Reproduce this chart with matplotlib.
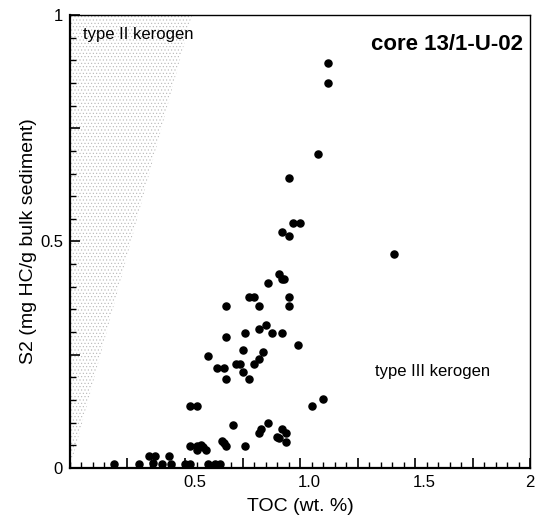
import numpy as np
import matplotlib.pyplot as plt
import matplotlib.transforms as mtransforms
from matplotlib.patches import Polygon
from matplotlib.ticker import MultipleLocator

plt.rcParams['font.family'] = ['Liberation Sans', 'DejaVu Sans']
plt.rcParams['hatch.linewidth'] = 0.4

# Rock-Eval results, core 13/1-U-02
toc = [1.12, 1.12, 1.08, 0.95, 0.97, 1.00, 0.92, 0.95, 1.41,
       0.91, 0.92, 0.93, 0.86, 0.78, 0.80, 0.95, 0.68, 0.82, 0.95,
       0.85, 0.82, 0.76, 0.88, 0.92, 0.68, 0.99, 0.75, 0.84, 0.60, 0.82,
       0.64, 0.67, 0.72, 0.74, 0.80, 0.68, 0.75, 0.78,
       0.52, 0.55, 1.05, 1.10,
       0.71, 0.86, 0.83, 0.82, 0.92, 0.94, 0.90, 0.91, 0.94,
       0.66, 0.67, 0.68, 0.76,
       0.52, 0.55, 0.57, 0.55, 0.59, 0.58,
       0.345, 0.37, 0.43,
       0.19, 0.30, 0.36, 0.40, 0.44, 0.50, 0.52, 0.60, 0.63, 0.65]
s2 = [0.893, 0.851, 0.693, 0.641, 0.540, 0.540, 0.522, 0.512, 0.472,
      0.428, 0.418, 0.418, 0.409, 0.377, 0.377, 0.377, 0.358, 0.358, 0.358,
      0.316, 0.307, 0.298, 0.298, 0.298, 0.289, 0.271, 0.261, 0.257, 0.248, 0.240,
      0.220, 0.220, 0.230, 0.230, 0.230, 0.196, 0.211, 0.196,
      0.137, 0.137, 0.137, 0.152,
      0.095, 0.100, 0.085, 0.078, 0.086, 0.077, 0.068, 0.066, 0.058,
      0.060, 0.055, 0.049, 0.049,
      0.049, 0.049, 0.051, 0.040, 0.040, 0.046,
      0.027, 0.027, 0.026,
      0.009, 0.009, 0.010, 0.009, 0.009, 0.009, 0.009, 0.009, 0.009, 0.009]

# type II kerogen field
field_x = [0, 0, 0.53]
field_y = [0, 1, 1]

fig = plt.figure(figsize=(5.35, 5.23), dpi=100)
ax = fig.add_axes([0.1308, 0.1052, 0.86, 0.8661])

ax.add_patch(Polygon(list(zip(field_x, field_y)), closed=True,
                     facecolor='none', edgecolor='#b5b5b5',
                     hatch='.....', linewidth=0, zorder=0))

ax.scatter(toc, s2, s=26, color='black', zorder=3, clip_on=False)

ax.set_xlim(0, 2)
ax.set_ylim(0, 1)

ax.set_xticks([0.25, 0.5, 0.75, 1.0, 1.25, 1.5, 1.75, 2.0])
ax.set_xticklabels(['', '0.5', '', '1.0', '', '1.5', '', '2'])
ax.xaxis.set_minor_locator(MultipleLocator(0.05))
ax.set_yticks([0, 0.25, 0.5, 0.75, 1.0])
ax.set_yticklabels(['0', '', '0.5', '', '1'])
ax.yaxis.set_minor_locator(MultipleLocator(0.05))

ax.tick_params(which='major', direction='in', length=7, width=1.2,
               labelsize=12, pad=5)
ax.tick_params(which='minor', direction='in', length=4.5, width=1.0)

# x labels start at their tick, the last one stays inside the figure
shift = mtransforms.ScaledTranslation(-2 / 100, 0, fig.dpi_scale_trans)
for lab in ax.get_xticklabels()[:-1]:
    lab.set_horizontalalignment('left')
    lab.set_transform(lab.get_transform() + shift)
ax.get_xticklabels()[-1].set_horizontalalignment('center')

for side in ['left', 'bottom']:
    ax.spines[side].set_linewidth(1.6)
for side in ['top', 'right']:
    ax.spines[side].set_linewidth(1.0)

ax.set_xlabel('TOC (wt. %)', fontsize=14, labelpad=6)
ax.set_ylabel('S2 (mg HC/g bulk sediment)', fontsize=14, labelpad=2)

ax.text(1.97, 0.936, 'core 13/1-U-02', fontsize=16, fontweight='bold',
        ha='right', va='center')
ax.text(0.057, 0.956, 'type II kerogen', fontsize=12, ha='left', va='center')
ax.text(1.326, 0.214, 'type III kerogen', fontsize=12, ha='left', va='center')

fig.savefig('out.png', dpi=100)
